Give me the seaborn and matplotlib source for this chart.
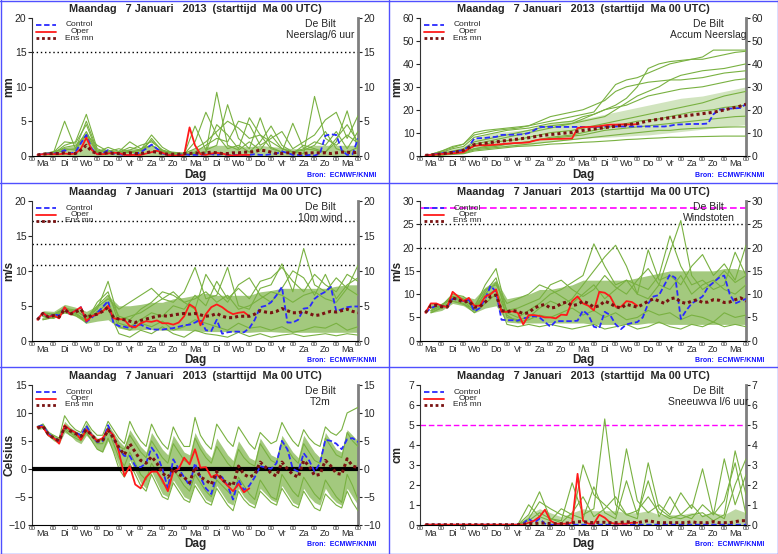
import numpy as np
import pandas as pd
import matplotlib
matplotlib.use('Agg')
import matplotlib.pyplot as plt
import seaborn as sns
from matplotlib.lines import Line2D

# tijdas in dagen vanaf Ma 7 jan 00 UTC
t6 = np.arange(1, 61) * 0.25    # 6-uurlijks
t12 = np.arange(1, 31) * 0.5    # 12-uurlijks (pluim-leden)
dagen = ['Ma', 'Di', 'Wo', 'Do', 'Vr', 'Za', 'Zo', 'Ma', 'Di', 'Wo', 'Do', 'Vr', 'Za', 'Zo', 'Ma']

# %% neerslag per 6 uur
neer_ctrl = [0.1,0.2,0.3,0.3, 0.4,0.8,0.3,0.5, 1.8,3.0,1.0,0.2, 0.3,0.8,0.3,0.2, 0.1,0.1,0.2,0.5,
             1.0,1.6,1.0,0.3, 0.1,0.0,0.1,0.2, 0.1,0.1,0.1,0.2, 0.2,0.1,0.2,0.1, 0.1,0.1,0.1,0.1,
             0.2,0.1,0.1,0.2, 0.3,0.6,0.4,0.1, 0.1,0.0,0.1,0.0, 0.3,2.9,3.1,3.0, 0.8,0.1,0.2,2.5]
neer_oper = [0.1,0.2,0.2,0.2, 0.2,0.3,0.2,0.3, 1.0,2.6,0.8,0.2, 0.2,0.3,0.4,0.4, 0.1,0.1,0.1,0.1,
             0.3,0.5,0.7,0.4, 0.1,0.0,0.0,0.1, 4.1,1.5,0.2,0.1, 0.3,0.4,0.3,0.1, 0.0,0.1,0.1,0.1]
neer_mean = [0.1,0.2,0.3,0.3, 0.3,0.4,0.3,0.3, 0.8,1.5,0.6,0.3, 0.3,0.4,0.3,0.3, 0.3,0.4,0.3,0.3,
             0.4,0.6,0.5,0.3, 0.2,0.2,0.2,0.3, 0.3,0.4,0.3,0.4, 0.5,0.4,0.3,0.3, 0.4,0.4,0.5,0.5,
             0.6,0.8,0.7,0.5, 0.3,0.3,0.4,0.4, 0.3,0.3,0.4,0.4, 0.4,0.4,0.3,0.4, 0.5,0.5,0.4,0.5]
neer_hi = [0.4,0.6,1.2,1.5,3.5,0.8,0.8,0.8,1.0,1.0, 1.5,0.8,0.5,0.6,1.0,1.3,1.5,1.5,1.3,1.3,
           1.5,1.3,1.2,1.0,1.0,1.5,1.5,1.5,1.5,1.5]
neer_leden = [
    [0.3,0.5,5.0,1.0,3.5,0.5,0.8,0.3,0.5,0.3, 2.5,0.6,0.2,0.1,0.3,0.5,9.2,1.5,0.8,2.0, 0.8,3.0,1.0,0.5,0.8,1.5,3.5,1.0,0.5,1.2],
    [0.2,0.3,1.5,2.0,6.0,1.0,0.4,0.5,1.2,0.8, 3.0,1.2,0.3,0.2,4.3,0.8,1.5,7.4,2.5,1.0, 5.5,1.2,0.5,4.7,1.0,0.8,0.5,2.0,6.5,1.0],
    [0.1,0.5,2.0,1.8,4.5,0.5,1.2,0.6,2.0,1.0, 1.5,0.6,0.5,0.3,1.0,2.0,3.5,5.0,4.0,2.5, 3.0,2.0,1.0,0.5,0.3,8.6,2.5,1.5,3.0,1.8],
    [0.2,0.6,1.0,0.8,3.0,0.4,0.3,0.5,0.8,1.5, 2.0,0.8,0.2,0.1,0.5,1.5,2.5,2.0,5.0,4.5, 1.5,2.5,3.5,1.0,2.0,3.0,5.2,6.3,2.5,5.8],
    [0.1,0.3,0.8,1.0,5.0,0.8,0.5,0.3,0.6,0.7, 1.5,0.5,0.3,0.2,2.0,6.3,3.0,1.0,1.5,0.5, 2.0,4.3,1.5,0.5,1.0,2.0,1.5,3.5,1.0,3.5],
    [0.2,0.4,1.2,1.5,3.0,1.5,0.6,1.0,0.5,0.8, 2.2,0.8,0.4,0.2,0.3,0.5,4.5,3.0,1.0,5.5, 3.0,1.0,0.5,0.3,1.5,1.0,0.5,2.5,4.5,2.0],
]

# %% geaccumuleerde neerslag
acc_ctrl = [0.1,0.4,0.7,1.0, 1.3,1.6,2.0,2.4, 4.0,7.5,7.6,7.7, 8.0,8.2,9.0,9.1, 9.1,9.2,9.3,9.8,
            11.0,12.5,12.5,12.5, 12.5,12.5,12.5,12.5, 12.5,12.5,12.5,12.5, 12.6,12.7,12.7,12.7, 12.7,12.7,12.7,12.7,
            12.7,12.7,12.7,12.7, 12.7,13.0,13.5,13.6, 13.7,13.8,13.8,13.8, 14.0,18.0,20.0,20.2, 20.5,20.6,20.8,22.5]
acc_oper = [0.1,0.3,0.5,0.7, 0.8,1.0,1.2,1.5, 3.0,4.3,4.5,4.5, 4.6,4.8,5.0,5.2, 5.4,5.5,5.6,5.8,
            6.5,7.0,7.1,7.2, 7.3,7.3,7.4,7.5, 12.0,12.4,12.5,12.6, 12.8,13.2,13.5,13.5, 13.6,13.6,13.6,13.7]
acc_mean = [0.1,0.3,0.5,0.8, 1.1,1.4,1.8,2.3, 3.5,4.8,5.1,5.4, 5.7,6.0,6.3,6.6, 6.9,7.2,7.5,7.8,
            8.2,8.6,8.9,9.2, 9.4,9.7,9.9,10.1, 10.6,11.0,11.3,11.6, 11.9,12.2,12.5,12.8, 13.1,13.4,13.7,14.0,
            14.6,15.1,15.5,15.9, 16.2,16.5,16.8,17.1, 17.4,17.7,18.0,18.3, 18.6,18.9,19.4,19.9, 20.5,21.0,21.6,22.4]
acc_lo = [0.0,0.3,0.8,1.2,2.5,3.0,3.5,4.0,4.2,4.5, 5.5,6.0,6.5,7.0,7.5,7.8,8.0,8.2,8.5,8.8,
          9.0,9.5,10.0,10.5,11.0,11.5,12.0,12.5,13.0,13.5]
acc_hi = [0.5,2.0,3.0,4.0,7.5,9.0,10.0,10.5,11.0,11.5, 13.0,14.0,15.0,15.5,16.0,17.0,18.0,19.0,20.0,21.0,
          22.0,23.0,24.0,25.0,25.5,26.0,27.0,28.0,29.0,30.0]
acc_leden = [
    [0.5,2,4,5,9,10,11,11.5,12,13, 14,15,16,17,18,19,25,31,33,34, 36,38,40,41,42,43,46,46,46,46],
    [0.5,1.5,3,4,8,9,10,11,11.5,12, 13,14,14.5,15,17,18,20,22,25,30, 38,40,41,41.5,42,42,43,44,45,45.5],
    [0.3,1,2,3,6,7,8,9,10,11, 12,13,13.5,14,15,16,17,20,23,26, 28,30,33,35,36,37,37.5,38,39,40],
    [0.5,2,3.5,5,10,11,11.5,12,12.5,13, 15,17,18,19,20,22,24,28,30,31, 32,32.5,33,33,33.5,34,35,36,36.5,37],
    [0.3,1,1.5,2.5,5,6,7,8,9,10, 11,12,13,14,16,18,20,21,22,24, 26,27,28,29,29.5,30,31,32,33,33.5],
    [0.2,0.8,1.5,2,4,5,6,6.5,7,8, 9,10,10.5,11,12,13,14,15,16,17, 18,19,20,21,22,23,24.5,26,27,28],
    [0.2,0.5,1,1.5,3,3.5,4,5,5.5,6, 7,8,8.5,9,10,11,12,13,14,15, 15.5,16,17,18,19,19.5,20,21,21.5,22],
    [0.1,0.5,1,1.5,3,4,4.5,5,5.5,6, 7,7.5,8,8.5,9,10,11,11.5,12,12.5, 13,13.5,14,14.5,15,15.5,16,16.5,17,17.2],
    [0.1,0.3,0.8,1,2.5,3,3.5,4,4.5,5, 5.5,6,6.5,7,7.5,8,8.5,9,9.5,10, 10.5,11,11,11.5,11.8,12,12.2,12.4,12.5,12.5],
    [0.1,0.2,0.5,0.8,2,2.5,3,3.5,4,4.2, 4.5,5,5.2,5.5,5.8,6,6.3,6.6,7,7.2, 7.5,7.7,8,8,8.2,8.3,8.4,8.5,8.5,8.5],
]

# %% 10m wind
wind_ctrl = [3.0,4.0,3.3,3.8, 3.6,4.7,3.8,4.3, 4.8,2.7,3.3,4.0, 4.8,5.7,2.5,2.1, 2.0,1.8,2.2,2.3,
             1.9,1.6,1.6,1.6, 1.7,1.8,2.0,2.2, 2.3,2.6,3.0,1.5, 1.4,3.0,1.0,1.2, 1.3,1.3,1.2,1.8,
             3.0,4.8,5.0,5.5, 6.5,7.7,2.6,2.6, 3.0,4.6,4.7,6.0, 6.6,7.0,7.7,4.2, 4.5,4.8,4.9,4.9]
wind_oper = [3.0,4.0,3.4,3.6, 3.2,4.8,3.8,4.3, 4.8,2.8,3.5,3.8, 4.2,5.0,3.2,3.1, 3.0,2.1,1.9,2.5,
             2.8,2.7,2.9,2.5, 2.5,2.3,2.6,3.5, 5.2,4.7,2.2,3.8, 4.8,5.2,4.8,4.2, 3.8,4.0,4.1,3.5]
wind_mean = [3.0,3.9,3.4,3.6, 3.4,4.5,3.8,4.1, 4.5,3.3,3.6,3.8, 4.2,4.8,3.3,3.1, 3.0,2.8,2.6,2.9,
             3.1,3.3,3.5,3.6, 3.5,3.7,3.8,3.9, 3.8,3.9,3.7,3.5, 3.6,3.9,3.5,3.3, 3.3,3.5,3.5,3.5,
             3.8,4.3,4.1,4.0, 4.2,4.6,4.3,4.0, 4.0,4.2,3.9,3.6, 3.7,4.0,4.2,4.1, 4.3,4.5,4.2,4.0]
wind_lo = [3.5,3.2,4.0,3.5,2.5,2.8,3.0,1.8,1.5,1.6, 1.6,1.5,1.5,1.5,1.4,1.3,1.3,1.3,1.2,1.2,
           1.3,1.3,1.2,1.2,1.2,1.2,1.2,1.2,1.2,1.2]
wind_hi = [4.3,4.2,5.2,4.8,4.2,5.0,6.5,5.0,5.0,5.2, 5.5,5.5,6.0,6.2,6.5,6.8,6.5,6.5,6.5,6.5,
           7.0,7.2,7.5,7.5,7.5,7.5,7.5,7.8,8.0,8.0]
wind_leden = [
    [4.0,3.8,4.5,4.2,3.5,4.5,8.5,3.0,3.5,4.0, 5.0,6.0,5.5,7.0,10.5,6.0,6.5,10.5,5.0,4.5, 7.5,8.0,11.0,7.0,13.2,8.0,7.0,9.0,7.5,10.8],
    [3.5,3.2,4.8,4.0,2.8,5.5,7.0,2.5,2.0,3.0, 4.0,3.5,5.0,4.5,6.5,5.0,8.5,6.0,7.5,6.0, 8.5,9.0,10.5,8.5,7.0,9.5,8.0,7.0,9.5,8.5],
    [3.0,3.5,4.2,3.8,3.0,4.0,5.5,2.0,1.5,2.5, 2.0,2.8,1.5,2.0,3.0,2.5,2.0,1.5,2.5,1.8, 2.0,1.5,2.0,1.2,1.5,2.0,1.8,2.5,1.5,2.0],
    [3.2,3.6,4.5,4.0,2.5,4.8,6.0,4.5,5.5,6.5, 7.5,6.0,7.0,5.5,6.0,7.0,5.5,6.5,4.5,5.0, 6.0,7.0,6.5,5.5,6.5,7.0,6.0,5.5,7.5,6.5],
    [3.0,3.3,4.0,3.6,2.7,4.2,4.5,1.0,0.5,1.5, 1.0,2.0,1.0,0.5,1.5,1.0,0.8,0.5,1.2,0.6, 1.0,0.5,0.8,1.0,0.6,0.8,1.0,0.7,1.0,0.8],
    [3.5,3.8,4.6,4.4,3.2,5.0,6.5,3.5,3.0,4.5, 5.5,7.0,6.5,5.5,4.5,9.5,7.0,5.5,8.0,9.0, 6.5,5.5,7.5,10.0,9.0,6.5,9.5,6.0,8.0,9.0],
]

# %% windstoten
stoot_ctrl = [6.0,7.0,7.5,7.5, 7.2,9.0,8.8,8.5, 8.8,6.3,7.0,9.0, 11.8,10.5,4.5,4.4, 4.4,4.3,4.8,5.0,
              5.3,5.0,4.0,3.0, 4.2,4.2,4.2,4.2, 4.3,6.5,5.5,3.0, 2.7,6.2,5.5,3.5, 2.5,3.5,3.8,4.0,
              5.0,8.0,9.5,9.8, 12.0,14.2,13.5,4.7, 6.5,8.0,8.7,9.5, 11.5,12.5,13.5,14.0, 10.0,8.0,8.5,9.0]
stoot_oper = [6.0,8.0,8.0,7.5, 7.2,10.5,9.5,8.5, 9.2,7.5,7.5,9.5, 10.0,11.0,6.2,6.2, 6.3,6.0,3.5,5.5,
              5.5,5.3,5.0,5.0, 4.8,5.6,5.5,8.5, 9.5,8.0,7.5,6.5, 10.5,10.3,9.5,7.3, 7.3,8.5,8.3,7.5]
stoot_mean = [6.0,7.5,7.6,7.3, 7.2,9.2,8.8,8.3, 8.5,7.2,7.3,8.3, 9.5,9.8,6.5,6.2, 6.5,6.3,5.8,6.0,
              7.0,7.5,7.8,7.0, 7.2,8.0,8.3,7.5, 7.8,8.5,8.0,7.2, 7.5,8.5,8.0,7.3, 7.0,7.8,7.5,7.2,
              7.8,8.5,9.0,8.5, 8.0,9.0,9.2,8.3, 8.0,8.5,8.8,8.2, 8.3,8.8,8.7,8.2, 8.3,8.8,9.2,8.5]
stoot_lo = [6.0,6.5,8.0,7.5,6.0,7.0,7.5,4.0,3.8,3.8, 3.8,3.8,3.8,3.8,3.8,3.5,3.5,3.5,3.5,3.5,
            3.8,3.8,3.5,3.5,3.5,3.5,3.5,3.5,3.5,3.5]
stoot_hi = [8.0,8.0,10.0,9.5,9.0,11.5,13.0,9.0,9.5,10.0, 11.0,11.0,11.5,12.0,13.0,13.0,13.0,13.0,13.0,13.5,
            14.0,14.5,15.0,15.0,15.0,15.0,15.0,15.5,15.5,15.0]
stoot_leden = [
    [7.0,7.5,9.5,9.0,7.0,12.0,15.5,6.0,5.0,6.5, 8.0,10.0,11.0,12.5,14.0,20.8,16.0,12.0,13.0,12.0, 11.0,14.0,22.5,16.0,12.0,13.0,11.0,12.0,19.0,14.0],
    [6.5,7.8,9.0,8.5,6.5,10.5,13.5,5.0,4.5,5.0, 7.0,8.5,7.5,9.0,12.0,15.0,18.0,20.5,16.0,10.0, 19.5,13.0,14.0,12.0,16.0,18.5,14.0,16.5,13.0,20.5],
    [6.0,7.2,8.5,8.0,6.0,8.0,10.0,3.5,3.0,3.5, 3.0,3.5,3.0,2.5,3.0,3.5,2.5,3.0,3.5,2.5, 3.0,4.0,3.0,2.5,3.5,3.0,4.0,3.0,3.5,3.0],
    [6.5,7.5,10.0,9.5,7.5,11.0,12.0,8.0,9.0,10.0, 12.0,11.0,9.5,8.0,10.0,12.0,9.0,11.0,13.0,10.0, 9.0,12.0,11.0,14.0,10.0,12.0,13.0,11.0,10.0,12.0],
    [6.0,7.0,8.5,7.8,6.8,9.5,11.0,5.5,4.0,4.5, 5.5,5.0,6.0,7.0,5.5,6.5,5.0,6.0,4.5,5.0, 6.5,5.5,6.0,4.5,5.5,5.0,4.0,6.0,5.0,5.5],
    [6.3,7.6,9.2,8.8,7.2,10.0,12.5,6.5,7.0,8.0, 9.0,12.0,13.0,11.0,9.5,11.0,14.0,11.5,10.0,13.0, 15.5,12.0,19.0,25.8,14.0,11.0,12.5,15.0,12.5,14.0],
]

# %% temperatuur 2m
t2m_ctrl = [7.5,7.8,6.3,5.5, 5.0,7.5,7.0,6.5, 6.0,7.7,6.0,4.8, 5.0,7.8,5.5,3.5, 2.3,2.3,0.5,0.3,
            1.0,3.8,2.5,0.0, -3.5,1.7,0.0,-1.5, -3.0,1.0,-1.5,-3.5, -4.5,-1.0,-1.5,-3.0, -5.5,-2.0,-3.8,-3.0,
            -1.5,0.5,0.2,0.0, 1.0,5.0,3.5,0.0, -0.5,2.8,1.5,-0.5, 1.0,5.2,5.0,4.5, 3.5,5.3,5.5,4.8]
t2m_oper = [7.5,7.5,6.0,5.5, 4.5,7.8,7.0,6.5, 5.2,7.0,6.0,5.0, 5.5,7.0,6.0,3.0, -1.3,0.5,-2.8,-3.5,
            -1.5,-0.5,-0.5,-2.0, -4.0,-0.5,0.0,2.0, 0.8,3.5,0.2,0.3, -1.5,-1.0,-2.0,-3.0, -4.0,-2.7,-4.2,-3.5]
t2m_mean = [7.3,7.6,6.2,5.5, 5.0,7.5,6.8,6.3, 5.8,7.0,6.0,5.0, 5.0,7.0,5.5,3.8, 2.5,4.5,3.0,1.5,
            1.0,2.2,1.0,-0.8, -1.5,0.0,-1.0,-1.5, -2.5,0.3,-1.5,-2.0, -2.8,-0.5,-2.0,-2.5, -3.0,0.5,-1.0,-1.5,
            -1.0,1.2,0.3,-0.8, -1.3,1.2,0.0,-1.0, -1.5,1.5,0.5,-1.2, -1.0,1.5,0.5,-0.8, -1.0,1.8,0.5,0.2]
t2m_lo = [7.0,7.2,5.8,5.0, 4.5,6.5,6.0,5.0, 4.5,6.0,5.0,3.5, 3.0,5.0,3.0,0.5, -1.0,1.5,-0.5,-2.5,
          -3.5,-0.5,-2.5,-4.5, -5.0,-2.0,-3.5,-5.0, -5.5,-2.5,-4.0,-5.5, -6.0,-3.0,-4.5,-6.0, -6.5,-3.5,-5.0,-6.0,
          -6.5,-3.5,-4.5,-5.5, -6.0,-3.0,-4.5,-6.0, -6.5,-3.5,-5.0,-6.0, -6.5,-3.5,-5.0,-6.0, -6.5,-3.5,-5.0,-6.5]
t2m_hi = [7.8,8.2,6.8,6.0, 5.5,8.5,7.5,6.8, 6.3,8.3,6.5,5.5, 5.5,8.0,6.5,5.0, 4.0,7.0,5.5,4.0,
          3.0,6.5,5.0,3.5, 2.5,6.0,4.5,3.0, 2.5,6.5,4.5,3.0, 2.0,5.5,4.0,2.5, 1.5,5.0,3.5,2.0,
          1.5,5.5,4.0,2.5, 2.0,6.0,4.5,3.0, 2.0,6.0,4.5,3.0, 2.0,6.5,5.0,3.5, 3.0,7.0,6.0,5.0]
t2m_leden = [
    [7.5,8.0,6.5,6.0, 5.5,9.5,8.0,7.0, 6.5,8.5,7.0,6.0, 6.0,8.5,7.0,5.5, 4.5,8.5,6.5,5.0, 4.0,8.0,6.0,4.5,
     3.5,7.5,5.5,4.0, 4.0,9.2,6.0,4.5, 3.5,8.0,6.5,5.0, 4.0,7.5,6.0,4.5, 3.5,6.5,5.5,4.5, 5.0,8.3,6.5,5.0,
     4.0,7.0,5.5,4.5, 4.0,7.5,6.5,6.0, 7.0,10.0,10.5,11.0],
    [7.3,7.5,6.0,5.3, 4.8,7.0,6.0,5.5, 5.0,6.5,5.0,3.5, 3.0,5.5,3.0,0.0, -1.5,1.0,-1.0,-3.0, -4.0,-1.0,-3.0,-5.0,
     -5.5,-2.5,-4.0,-5.5, -6.0,-3.0,-4.5,-6.0, -6.5,-3.5,-5.0,-6.5, -7.5,-4.0,-5.5,-6.5, -7.0,-4.0,-5.0,-6.0,
     -6.5,-3.5,-5.0,-6.5, -7.0,-4.0,-5.5,-7.0, -7.5,-4.5,-5.5,-6.5, -7.0,-4.0,-6.0,-7.5],
    [7.6,7.7,6.3,5.6, 5.2,7.8,6.8,6.2, 5.8,7.5,6.0,5.0, 5.2,7.5,5.5,4.0, 3.5,6.0,4.5,3.0, 2.0,5.0,3.5,2.0,
     1.0,4.5,3.0,1.5, 1.0,5.5,3.5,2.0, 1.0,4.0,2.5,1.0, 0.0,3.5,2.0,1.0, 0.5,4.5,3.0,1.5, 1.0,5.0,3.5,2.0,
     1.0,4.5,3.0,1.5, 1.0,5.5,4.0,2.5, 2.0,6.5,5.0,4.0],
    [7.4,7.6,6.1,5.4, 4.9,7.3,6.5,5.8, 5.5,7.2,5.8,4.5, 4.5,7.0,4.5,2.0, 0.5,3.0,1.0,-1.0, -2.0,1.0,-0.5,-2.5,
     -3.5,0.0,-1.5,-3.0, -4.0,-1.0,-2.5,-4.0, -5.0,-2.0,-3.0,-4.0, -5.0,-1.5,-3.0,-4.5, -5.5,-2.0,-3.5,-5.0,
     -5.5,-1.0,-2.5,-4.0, -5.0,-1.5,-3.0,-4.5, -5.5,-2.0,-3.5,-5.0, -6.0,-1.0,-3.0,-5.5],
]

# %% sneeuwval per 6 uur
snw_ctrl = [0,0,0,0, 0,0,0,0, 0,0,0,0, 0,0,0,0, 0,0,0.05,0.3, 0.1,0.3,0.05,0, 0,0,0,0, 0,0,0,0,
            0,0,0,0, 0,0,0,0, 0,0,0,0, 0,0,0,0, 0,0,0,0, 0,0,0,0, 0,0,0,0]
snw_oper = [0,0,0,0, 0,0,0,0, 0,0,0,0, 0,0,0,0, 0,0,0,0.1, 0.2,0.4,0.75,0.2, 0.05,0.05,0.05,0.1,
            2.55,0.2,0.05,0.05, 0.5,0.35,0.1,0.05, 0.05,0.05,0.1,0.1]
snw_mean = [0,0,0,0, 0,0,0,0, 0,0,0,0, 0,0,0,0, 0,0,0.02,0.05, 0.05,0.08,0.08,0.06, 0.05,0.05,0.08,0.1,
            0.15,0.15,0.12,0.1, 0.12,0.12,0.1,0.1, 0.12,0.15,0.12,0.1, 0.15,0.2,0.15,0.1, 0.1,0.1,0.1,0.1,
            0.1,0.15,0.1,0.1, 0.1,0.15,0.1,0.1, 0.1,0.15,0.2,0.2]
snw_hi = [0,0,0,0,0,0,0,0,0,0.5, 0.8,0.6,0.4,0.6,0.8,0.7,0.7,0.7,0.6,0.6, 0.7,0.5,0.5,0.5,0.6,0.5,0.6,0.5,0.8,0.6]
snw_leden = [
    [0,0,0,0,0,0,0,0,0,0.5, 1.65,0.3,0.2,2.1,0.5,0.8,5.3,1.0,0.5,0.3, 3.1,0.8,0.4,0.3,0.5,0.6,0.2,0.5,3.7,1.5],
    [0,0,0,0,0,0,0,0,0,0.3, 1.15,0.8,0.5,0.3,3.0,1.5,1.0,0.5,3.8,1.2, 0.6,1.0,0.5,1.6,0.8,2.8,0.5,3.3,1.0,2.5],
    [0,0,0,0,0,0,0,0,0,1.0, 0.4,0.2,0.8,0.5,0.3,1.9,0.6,0.3,2.2,0.5, 2.2,0.4,1.4,0.5,0.3,1.0,0.5,1.2,3.1,0.5],
    [0,0,0,0,0,0,0,0,0,0.2, 0.6,0.3,0.1,0.6,1.4,0.4,0.8,1.4,0.5,0.7, 1.4,0.6,0.3,0.5,1.0,0.4,0.6,0.3,2.0,3.3],
]

# %% opmaak
sns.set_style('white')
plt.rcParams['font.family'] = ['Liberation Sans', 'DejaVu Sans']

groen = '#79b141'
band_kleur = '#7db348'
blauw = '#2a2aff'
rood = '#ff1a1a'
bruin = '#7a1212'
kader = '#5050ff'
titel = 'Maandag   7 Januari   2013  (starttijd  Ma 00 UTC)'
stip = (0, (1, 2))

panelen = [
    dict(ctrl=neer_ctrl, oper=neer_oper, mean=neer_mean, lo=None, hi=neer_hi, leden=neer_leden, alpha=0.6,
         ylim=(0, 20), yticks=range(0, 21, 5), ylabel='mm', naam='Neerslag/6 uur',
         lijnen=[(15, 'k', stip, 1.0)]),
    dict(ctrl=acc_ctrl, oper=acc_oper, mean=acc_mean, lo=acc_lo, hi=acc_hi, leden=acc_leden, alpha=0.35,
         ylim=(0, 60), yticks=range(0, 61, 10), ylabel='mm', naam='Accum Neerslag', lijnen=[]),
    dict(ctrl=wind_ctrl, oper=wind_oper, mean=wind_mean, lo=wind_lo, hi=wind_hi, leden=wind_leden, alpha=0.7,
         ylim=(0, 20), yticks=range(0, 21, 5), ylabel='m/s', naam='10m wind',
         lijnen=[(10.8, 'k', stip, 1.0), (13.9, 'k', stip, 1.0), (17.2, 'k', stip, 1.0)]),
    dict(ctrl=stoot_ctrl, oper=stoot_oper, mean=stoot_mean, lo=stoot_lo, hi=stoot_hi, leden=stoot_leden, alpha=0.7,
         ylim=(0, 30), yticks=range(0, 31, 5), ylabel='m/s', naam='Windstoten',
         lijnen=[(20, 'k', stip, 1.0), (25, 'k', stip, 1.0), (28.5, '#ff00ff', (0, (4, 2)), 1.2)]),
    dict(ctrl=t2m_ctrl, oper=t2m_oper, mean=t2m_mean, lo=t2m_lo, hi=t2m_hi, leden=t2m_leden, alpha=0.7,
         ylim=(-10, 15), yticks=range(-10, 16, 5), ylabel='Celsius', naam='T2m', lijnen=[]),
    dict(ctrl=snw_ctrl, oper=snw_oper, mean=snw_mean, lo=None, hi=snw_hi, leden=snw_leden, alpha=0.5,
         ylim=(0, 7), yticks=range(0, 8), ylabel='cm', naam='Sneeuwva l/6 uur',
         lijnen=[(5, '#ff00ff', (0, (4, 2)), 1.0)]),
]

# positie (links, boven, onder) in pixels
posities = [(32, 18, 155.6), (420, 18, 155.6), (32, 201, 340.7), (420, 201, 340.7),
            (32, 385, 524.7), (420, 385, 524.7)]

fig = plt.figure(figsize=(7.78, 5.54), dpi=100)

for p, (px, top, bot) in zip(panelen, posities):
    ax = fig.add_axes([px / 778, 1 - bot / 554, 326 / 778, (bot - top) / 554])
    hoogte = bot - top

    # drempellijnen
    for y, kl, ls, lw in p['lijnen']:
        ax.axhline(y, color=kl, linestyle=ls, lw=lw, zorder=1)

    # pluim: dichte kern + losse leden
    tb = t6 if len(p['hi']) == 60 else t12
    lo = p['lo'] if p['lo'] is not None else 0
    ax.fill_between(tb, lo, p['hi'], color=band_kleur, alpha=p['alpha'], lw=0, zorder=2)
    tl = t6 if len(p['leden'][0]) == 60 else t12
    df = pd.DataFrame({'dag': np.tile(tl, len(p['leden'])),
                       'waarde': np.concatenate(p['leden']),
                       'lid': np.repeat(np.arange(len(p['leden'])), len(tl))})
    sns.lineplot(data=df, x='dag', y='waarde', units='lid', estimator=None,
                 color=groen, lw=0.8, ax=ax, zorder=3)

    if p['naam'] == 'T2m':
        ax.axhline(0, color='k', lw=3, zorder=4)

    sns.lineplot(x=t6, y=p['ctrl'], color=blauw, lw=1.3, linestyle=(0, (3, 1.5)), ax=ax, zorder=5)
    sns.lineplot(x=t6[:len(p['oper'])], y=p['oper'], color=rood, lw=1.3, ax=ax, zorder=6)
    sns.lineplot(x=t6, y=p['mean'], color=bruin, lw=2.2, linestyle=(0, (1, 1)), ax=ax, zorder=7)

    ax.set_xlim(0, 15)
    ax.set_ylim(*p['ylim'])
    ax.set_yticks(list(p['yticks']))
    ax.set_xticks(range(16))
    ax.set_xticklabels(['00'] * 16, fontsize=4.5)
    ax.set_xticks(np.arange(15) + 0.5, minor=True)
    ax.set_xticklabels(dagen, minor=True, fontsize=6.5)
    ax.tick_params(axis='x', which='major', bottom=True, length=0, pad=0.8)
    ax.tick_params(axis='x', which='minor', bottom=True, length=0, pad=2.8)
    ax.tick_params(axis='y', left=True, right=True, labelleft=True, labelright=True,
                   labelsize=7.5, length=3, pad=1, direction='out')
    ax.set_xlabel('Dag', fontsize=8.5, fontweight='bold', va='center')
    ax.xaxis.set_label_coords(0.5, -19.5 / hoogte)
    ax.set_ylabel(p['ylabel'], fontsize=8.5, fontweight='bold')
    ax.yaxis.set_label_coords(-0.05, 0.5)
    ax.spines['top'].set_visible(False)
    ax.spines['left'].set_color('#333333')
    ax.spines['left'].set_linewidth(0.8)
    ax.spines['bottom'].set_color('k')
    ax.spines['bottom'].set_linewidth(0.8)
    ax.spines['right'].set_color('#7f7f7f')
    ax.spines['right'].set_linewidth(2)

    ax.set_title(titel, fontsize=7.8, fontweight='bold', pad=4)
    ax.text(0.885, 1 - 6 / hoogte, 'De Bilt', transform=ax.transAxes, ha='center', va='center', fontsize=7.5)
    ax.text(0.885, 1 - 17 / hoogte, p['naam'], transform=ax.transAxes, ha='center', va='center', fontsize=7.5)
    ax.text(1.055, -19.5 / hoogte, 'Bron:  ECMWF/KNMI', transform=ax.transAxes, ha='right', va='center',
            fontsize=5, color='#1010ff', fontweight='bold')

    # legenda
    for dy, kl, ls, lw, tekst in [(7, blauw, (0, (3, 1.5)), 1.3, 'Control'),
                                  (13.5, rood, '-', 1.3, 'Oper'),
                                  (20, bruin, (0, (1, 1)), 2.0, 'Ens mn')]:
        yy = 1 - dy / hoogte
        ax.plot([0.012, 0.075], [yy, yy], transform=ax.transAxes, color=kl, linestyle=ls, lw=lw, zorder=8)
        ax.text(0.146, yy, tekst, transform=ax.transAxes, ha='center', va='center', fontsize=6, zorder=8)

# blauwe kaders rond de panelen
for x in [0.5, 388.5, 777.5]:
    fig.add_artist(Line2D([x / 778, x / 778], [0, 1], transform=fig.transFigure, color=kader, lw=1))
for y in [0.5, 182.5, 366.5, 553.5]:
    fig.add_artist(Line2D([0, 1], [1 - y / 554, 1 - y / 554], transform=fig.transFigure, color=kader, lw=1))

fig.savefig('out.png', dpi=100, facecolor='white')
